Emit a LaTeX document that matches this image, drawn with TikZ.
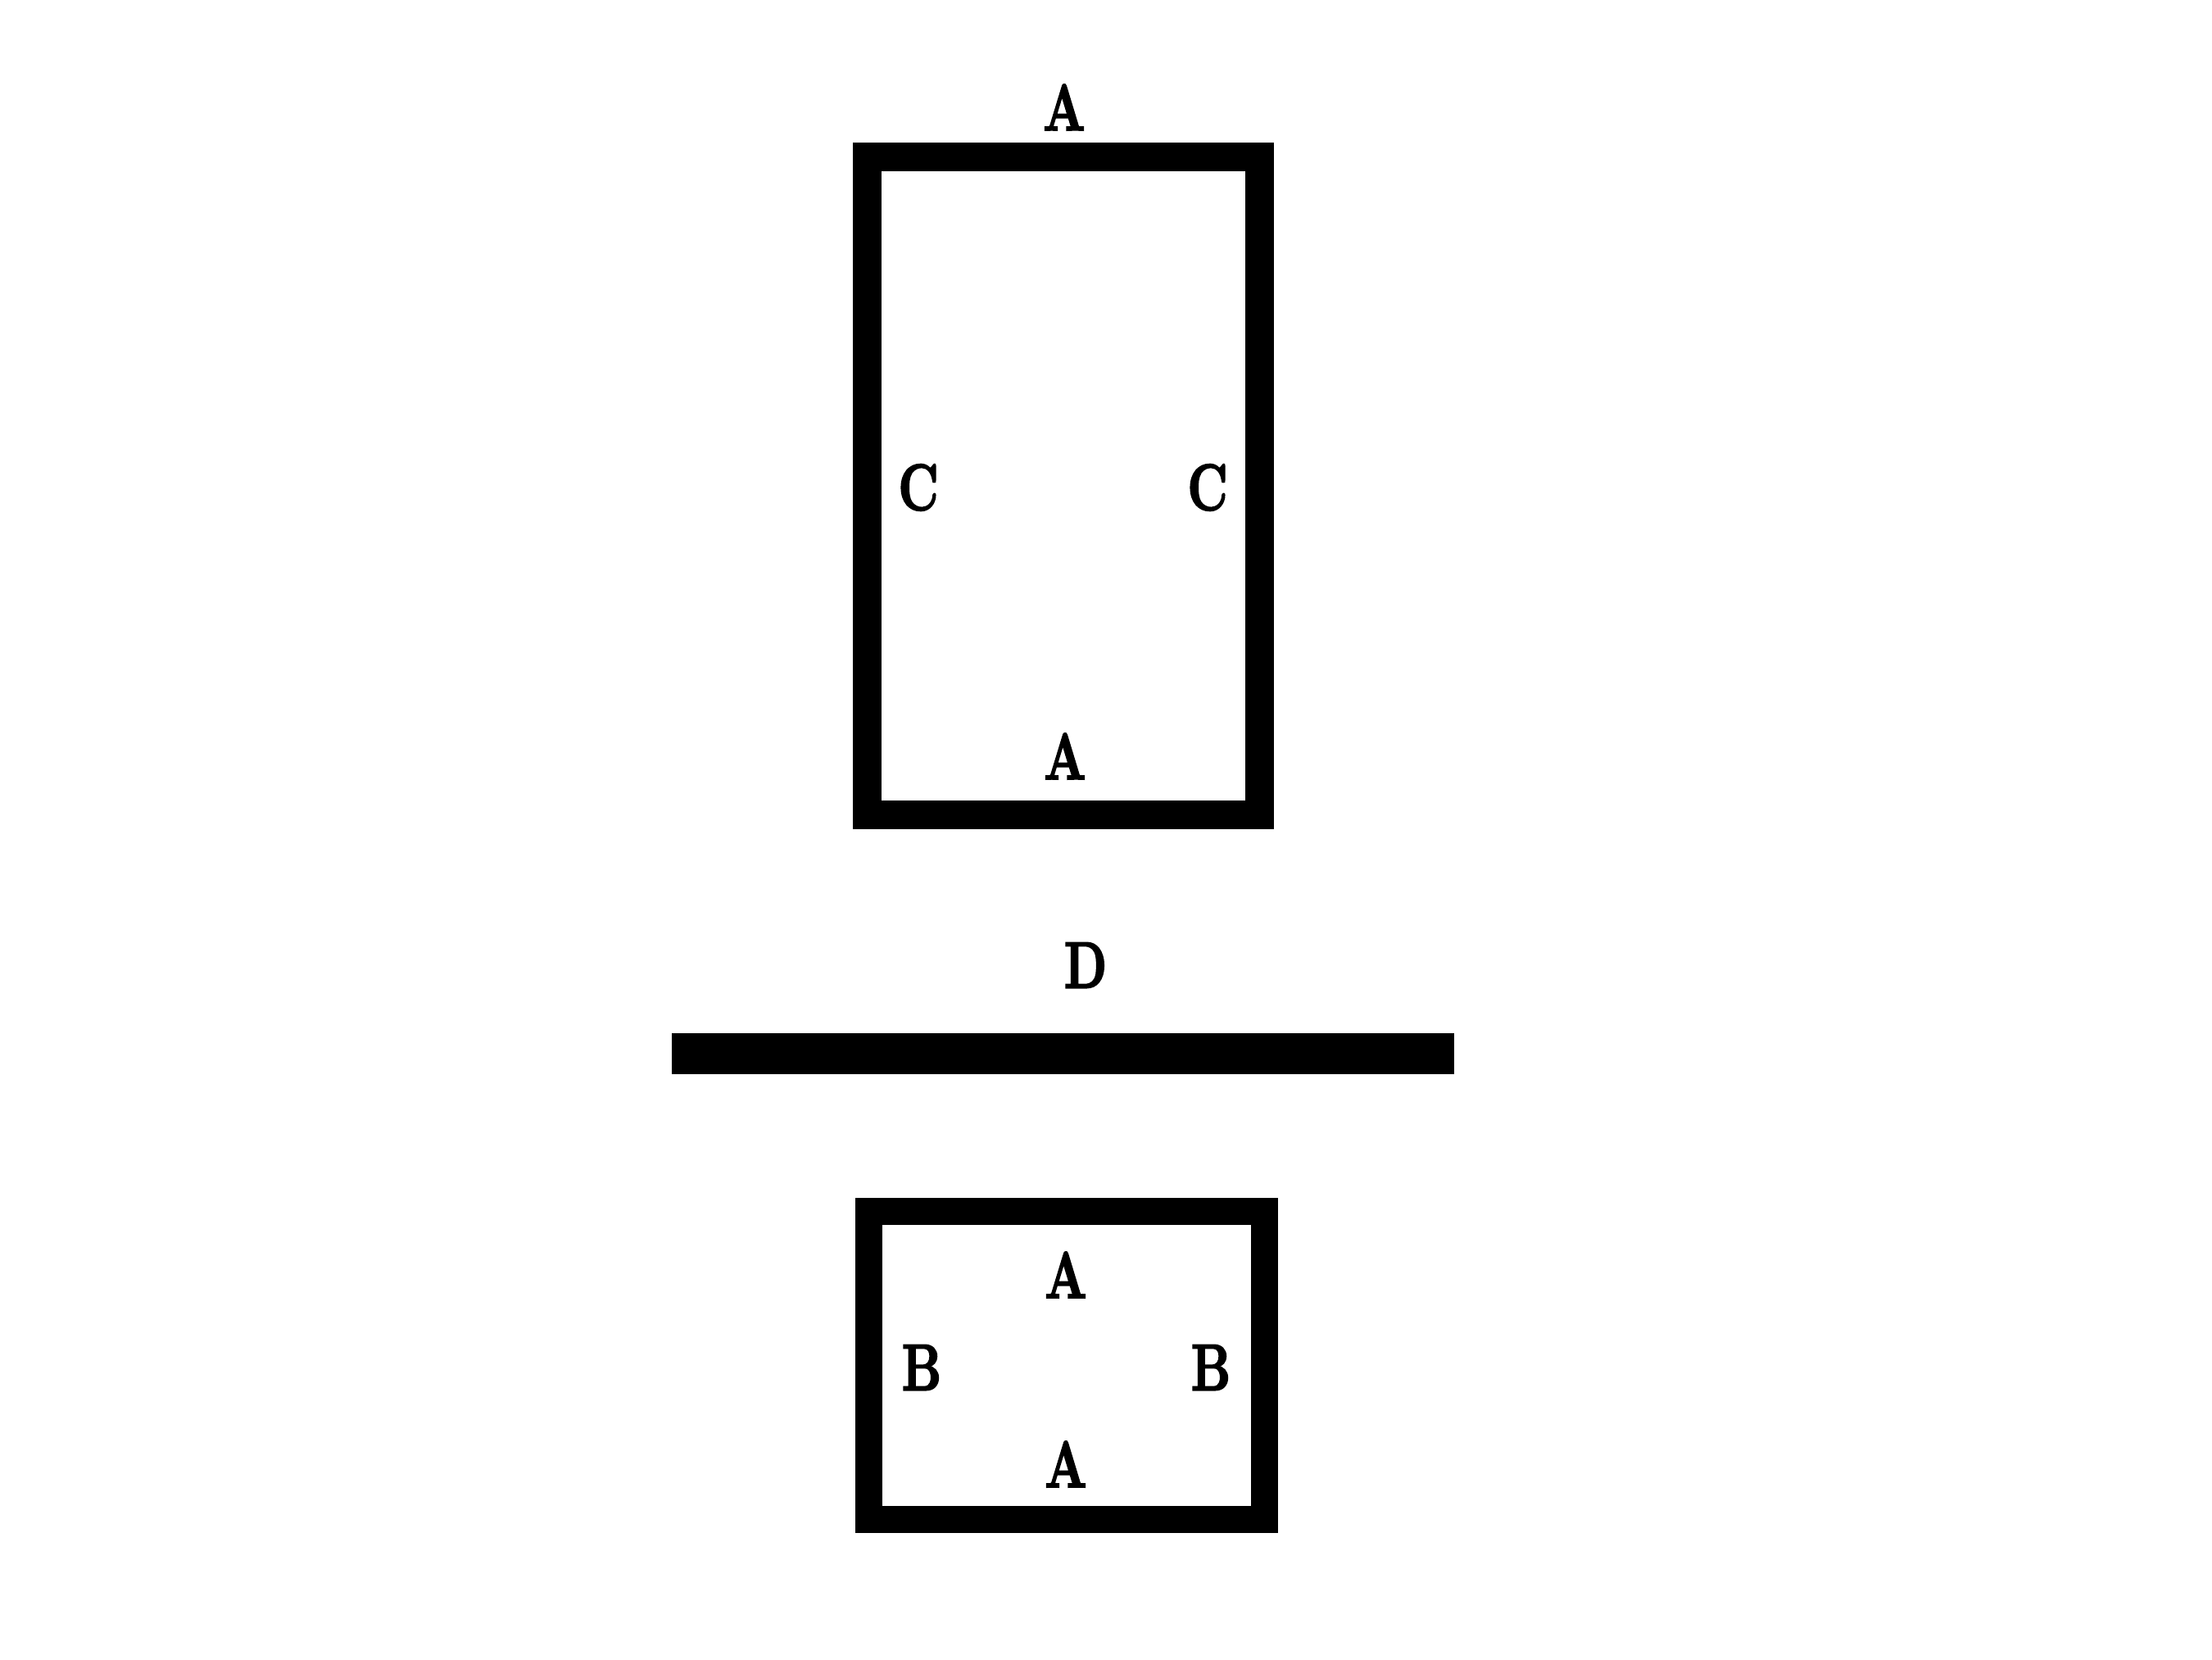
\documentclass[tikz,border=0pt]{standalone}
\usepackage{amsmath}
\usepackage{amssymb}
\usepackage{fontspec}
\newfontfamily\lblfont{lmroman10-bold.otf}[FakeBold=2.5]

\newcommand{\lbltxt}[1]{\scalebox{0.74}[1]{\lblfont\fontsize{22.8}{24}\selectfont #1}}

\tikzset{
    lbl/.style={inner sep=0pt},
    frame/.style={line width=0.35cm, line cap=rect}
}

\begin{document}
\begin{tikzpicture}
        \useasboundingbox (0,0) rectangle (27,20.25);
        \draw[frame] (10.58,10.31) rectangle (15.375,18.33);
        \fill (8.20,7.14) rectangle (17.75,7.64);
        \draw[frame, line width=0.33cm] (10.60,1.705) rectangle (15.43,5.47);
        \node[lbl] (atop) at (12.99,18.94) {\lbltxt{A}};
        \node[lbl] (abot) at (13.00,11.02) {\lbltxt{A}};
        \node[lbl] (cleft) at (11.21,14.30) {\lbltxt{C}};
        \node[lbl] (cright) at (14.74,14.30) {\lbltxt{C}};
        \node[lbl] (dlbl) at (13.25,8.47) {\lbltxt{D}};
        \node[lbl] (ainup) at (13.01,4.69) {\lbltxt{A}};
        \node[lbl] (aindown) at (13.01,2.38) {\lbltxt{A}};
        \node[lbl] (bleft) at (11.25,3.56) {\lbltxt{B}};
        \node[lbl] (bright) at (14.78,3.56) {\lbltxt{B}};
    \end{tikzpicture}
\end{document}
